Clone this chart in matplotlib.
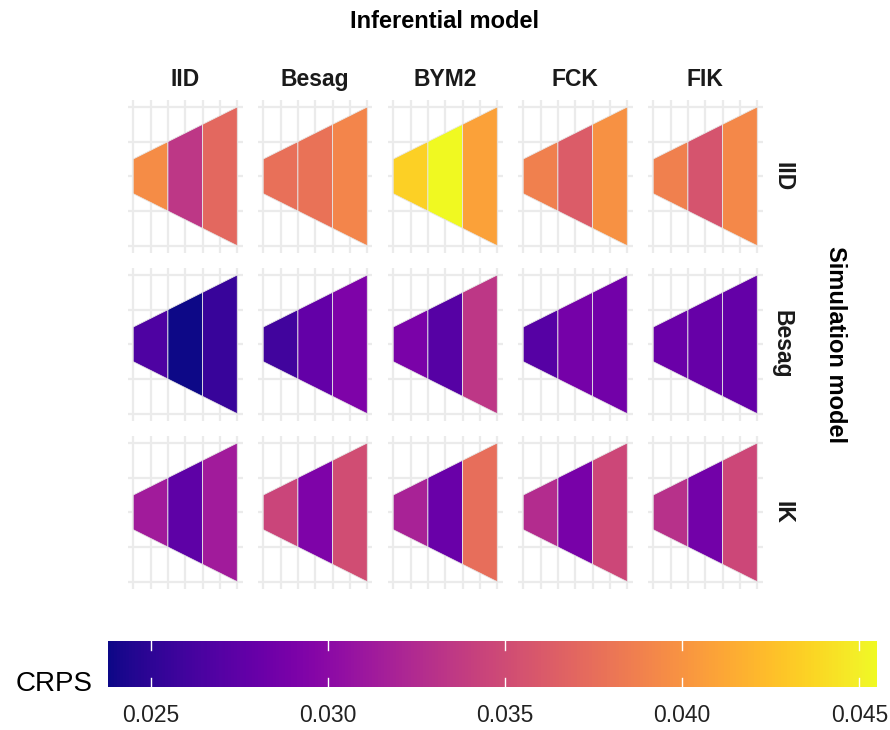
import matplotlib
matplotlib.use("Agg")
import matplotlib.pyplot as plt
import numpy as np
from matplotlib.patches import Polygon
from matplotlib.colors import Normalize
from matplotlib import cm

plt.rcParams['font.family'] = ['Liberation Sans', 'DejaVu Sans']

# ---- data ----
inferential_models = ["IID", "Besag", "BYM2", "FCK", "FIK"]
simulation_models = ["IID", "Besag", "IK"]
regions = [1, 2, 3]

# CRPS values: [simulation row][inferential col][region]
crps_sim_iid = [
    [0.0395, 0.0334, 0.0371],
    [0.0377, 0.0378, 0.0391],
    [0.0434, 0.0455, 0.0408],
    [0.0388, 0.0362, 0.0399],
    [0.0388, 0.0356, 0.0393],
]
crps_sim_besag = [
    [0.0266, 0.0238, 0.0255],
    [0.0260, 0.0277, 0.0293],
    [0.0290, 0.0271, 0.0334],
    [0.0271, 0.0288, 0.0286],
    [0.0282, 0.0279, 0.0278],
]
crps_sim_ik = [
    [0.0314, 0.0275, 0.0314],
    [0.0345, 0.0293, 0.0351],
    [0.0319, 0.0281, 0.0375],
    [0.0327, 0.0289, 0.0347],
    [0.0330, 0.0286, 0.0347],
]
crps = [crps_sim_iid, crps_sim_besag, crps_sim_ik]
colorbar_ticks = [0.025, 0.030, 0.035, 0.040, 0.045]
colorbar_labels = ["0.025", "0.030", "0.035", "0.040", "0.045"]

# ---- layout ----
W, H = 890, 730
fig = plt.figure(figsize=(W / 100, H / 100), dpi=100)

all_vals = np.array(crps).ravel()
norm = Normalize(vmin=all_vals.min(), vmax=all_vals.max())
cmap = matplotlib.colormaps["plasma"]

def fig_rect(left, top, w, h):
    return [left / W, 1 - (top + h) / H, w / W, h / H]

pw, ph = 114.5, 152.7
grid_col = "#ebebeb"
for r, sim in enumerate(simulation_models):
    for c, inf in enumerate(inferential_models):
        left = 128 + 130 * c
        top = 100 + 168 * r
        ax = fig.add_axes(fig_rect(left, top, pw, ph))
        ax.set_xlim(0.85, 4.15)
        ax.set_ylim(-2.2, 2.2)
        ax.set_xticks([1, 2, 3, 4])
        ax.set_xticks([1.5, 2.5, 3.5], minor=True)
        ax.set_yticks([-2, -1, 0, 1, 2])
        ax.grid(True, which="both", axis="x", color=grid_col, lw=1.6, zorder=0)
        ax.grid(True, which="major", axis="y", color=grid_col, lw=1.6, zorder=0)
        ax.tick_params(which="both", length=0, labelbottom=False, labelleft=False)
        for s in ax.spines.values():
            s.set_visible(False)
        ax.set_axisbelow(True)
        for k, reg in enumerate(regions):
            x0, x1 = reg, reg + 1
            poly = Polygon([(x0, -x0 / 2), (x1, -x1 / 2), (x1, x1 / 2), (x0, x0 / 2)],
                           closed=True, facecolor=cmap(norm(crps[r][c][k])),
                           edgecolor="#e6e6e6", lw=0.6, zorder=2)
            ax.add_patch(poly)
        if r == 0:
            fig.text((left + pw / 2) / W, 1 - 86 / H, inf, ha="center", va="baseline",
                     fontsize=16.5, fontweight="bold", color="#1a1a1a")
        if c == len(inferential_models) - 1:
            fig.text(776 / W, 1 - (top + ph / 2) / H, sim, ha="center", va="baseline",
                     rotation=-90, rotation_mode="anchor",
                     fontsize=16.5, fontweight="bold", color="#1a1a1a")

fig.text(445 / W, 1 - 22 / H, "Inferential model", ha="center", va="center",
         fontsize=17, fontweight="bold", color="black")
fig.text(829 / W, 1 - 345 / H, "Simulation model", ha="center", va="baseline",
         rotation=-90, rotation_mode="anchor",
         fontsize=17, fontweight="bold", color="black")

# ---- colorbar ----
cax = fig.add_axes(fig_rect(108, 641, 769, 46))
sm = cm.ScalarMappable(norm=norm, cmap=cmap)
cb = fig.colorbar(sm, cax=cax, orientation="horizontal")
cb.outline.set_visible(False)
cb.set_ticks(colorbar_ticks)
cb.set_ticklabels(colorbar_labels)
cax.tick_params(length=0, labelsize=16.5, pad=12, labelcolor="#222222")
for t in colorbar_ticks:
    cax.plot([t, t], [0, 0.2], color="white", lw=1.0, transform=cax.get_xaxis_transform())
    cax.plot([t, t], [0.8, 1.0], color="white", lw=1.0, transform=cax.get_xaxis_transform())
fig.text(54 / W, 1 - 684 / H, "CRPS", ha="center", va="center", fontsize=20, color="black")

fig.savefig("out.png", dpi=100)
